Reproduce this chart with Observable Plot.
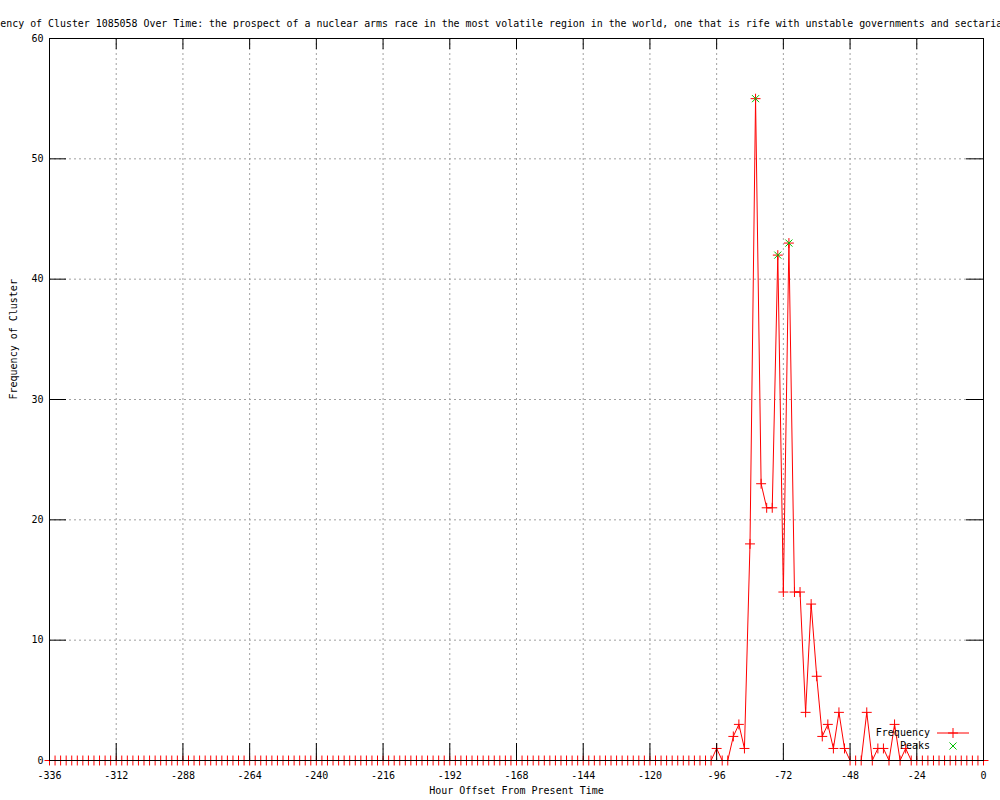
<!DOCTYPE html>
<html>
<head>
<meta charset="utf-8">
<script src="https://cdn.jsdelivr.net/npm/d3@7"></script>
<script src="https://cdn.jsdelivr.net/npm/@observablehq/plot@0.6"></script>
<style>
  html, body { margin: 0; padding: 0; background: white; }
  #chart { width: 1000px; height: 800px; overflow: hidden; }
</style>
</head>
<body>
<div id="chart"></div>
<script>
// ---- data ----
const titleText = "Frequency of Cluster 1085058 Over Time: the prospect of a nuclear arms race in the most volatile region in the world, one that is rife with unstable governments and sectarian";
const xLabel = "Hour Offset From Present Time";
const yLabel = "Frequency of Cluster";

// hour offsets, every 2 hours from -336 to 0
const hours = d3.range(-336, 1, 2);
const counts = [
  0,0,0,0,0,0,0,0,0,0,0,0,0,0,0,0,0,0,0,0,
  0,0,0,0,0,0,0,0,0,0,0,0,0,0,0,0,0,0,0,0,
  0,0,0,0,0,0,0,0,0,0,0,0,0,0,0,0,0,0,0,0,
  0,0,0,0,0,0,0,0,0,0,0,0,0,0,0,0,0,0,0,0,
  0,0,0,0,0,0,0,0,0,0,0,0,0,0,0,0,0,0,0,0,
  0,0,0,0,0,0,0,0,0,0,0,0,0,0,0,0,0,0,0,0,
  1,0,0,2,3,1,18,55,23,21,21,42,14,43,14,14,4,13,7,2,
  3,1,4,1,0,0,0,4,0,1,1,0,3,0,1,
  0,0,0,0,0,0,0,0,0,0,0,0,0,0
];
const peakHours = [-82, -74, -70];
const peakCounts = [55, 42, 43];

const xTicks = [-336,-312,-288,-264,-240,-216,-192,-168,-144,-120,-96,-72,-48,-24,0];
const yTicks = [0,10,20,30,40,50,60];
const legendLabels = ["Frequency", "Peaks"];

// ---- build ----
const series = hours.map((h, i) => ({hour: h, count: counts[i]}));
const peaks = peakHours.map((h, i) => ({hour: h, count: peakCounts[i]}));

const W = 1000, H = 800, mL = 49, mR = 17, mT = 38, mB = 40;
const innerW = W - mL - mR, innerH = H - mT - mB;
const RED = "#ff0000", GREEN = "#00c000", GRID = "#a0a0a0";
const FONT = "DejaVu Sans Mono";

const chart = Plot.plot({
  width: W, height: H,
  marginLeft: mL, marginRight: mR, marginTop: mT, marginBottom: mB,
  style: {fontFamily: FONT, fontSize: "10px", background: "white", color: "black"},
  x: {domain: [-336, 0]},
  y: {domain: [0, 60]},
  marks: [
    // dotted grid
    Plot.ruleX(xTicks.filter(d => d !== -336 && d !== 0), {x: d => d, stroke: GRID, strokeDasharray: "2,3", strokeWidth: 1}),
    Plot.ruleY(yTicks.filter(d => d !== 0 && d !== 60), {y: d => d, stroke: GRID, strokeDasharray: "2,3", strokeWidth: 1}),
    // data
    Plot.line(series, {x: "hour", y: "count", stroke: RED, strokeWidth: 1}),
    Plot.dot(series, {x: "hour", y: "count", symbol: "plus", stroke: RED, r: 3.3, strokeWidth: 1}),
    Plot.dot(peaks, {x: "hour", y: "count", symbol: "times", stroke: GREEN, r: 3.3, strokeWidth: 1}),
    // border and inward ticks
    Plot.frame({stroke: "black", strokeWidth: 1}),
    Plot.ruleX(xTicks, {x: d => d, stroke: "black", insetTop: innerH - 17}),
    Plot.ruleX(xTicks, {x: d => d, stroke: "black", insetBottom: innerH - 11}),
    Plot.ruleY(yTicks, {y: d => d, stroke: "black", insetRight: innerW - 17}),
    Plot.ruleY(yTicks, {y: d => d, stroke: "black", insetLeft: innerW - 17}),
    // axes labels
    Plot.axisX({ticks: xTicks, tickSize: 0, tickPadding: 11, tickFormat: d => String(d), label: null, fontSize: 10}),
    Plot.axisY({ticks: yTicks, tickSize: 0, tickPadding: 6, tickFormat: d => String(d), label: null, fontSize: 10}),
    Plot.text([xLabel], {text: d => d, frameAnchor: "bottom", dy: 33, fontSize: 10}),
    Plot.text([yLabel], {text: d => d, frameAnchor: "left", dx: -36, rotate: -90, fontSize: 10}),
    Plot.text([titleText], {text: d => d, frameAnchor: "top-left", textAnchor: "start", dx: -mL - 30, dy: -19, fontSize: 9.92})
  ]
});

// legend (gnuplot-style key inside bottom-right)
const svg = d3.select(chart);
const key = svg.append("g").attr("font-family", FONT).attr("font-size", 10);
const keyRight = 930, row1 = 733, row2 = 746, sx1 = 937, sx2 = 969, sxm = 953;
key.append("text").attr("x", keyRight).attr("y", row1).attr("text-anchor", "end").attr("dy", "0.32em").text(legendLabels[0]);
key.append("text").attr("x", keyRight).attr("y", row2).attr("text-anchor", "end").attr("dy", "0.32em").text(legendLabels[1]);
key.append("line").attr("x1", sx1).attr("x2", sx2).attr("y1", row1).attr("y2", row1).attr("stroke", RED);
key.append("path").attr("d", d3.symbol(d3.symbolPlus, Math.PI * 3.3 * 3.3)()).attr("transform", `translate(${sxm},${row1})`).attr("stroke", RED).attr("fill", "none");
key.append("path").attr("d", d3.symbol(d3.symbolTimes, Math.PI * 3.3 * 3.3)()).attr("transform", `translate(${sxm},${row2})`).attr("stroke", GREEN).attr("fill", "none");

document.getElementById("chart").appendChild(chart);
</script>
</body>
</html>
